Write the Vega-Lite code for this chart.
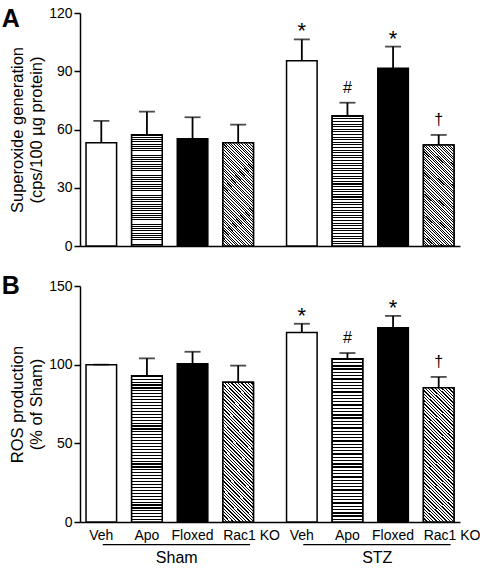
{
  "$schema": "https://vega.github.io/schema/vega-lite/v6.json",
  "padding": {"left": 1, "top": 6, "right": 5, "bottom": 2},
  "spacing": 21,
  "params": [
    {"name": "stripeStops", "value": [
      {"offset":0,"color":"#000"},{"offset":0.008,"color":"#000"},{"offset":0.008,"color":"#fff"},{"offset":0.02,"color":"#fff"},
      {"offset":0.02,"color":"#000"},{"offset":0.028,"color":"#000"},{"offset":0.028,"color":"#fff"},{"offset":0.04,"color":"#fff"},
      {"offset":0.04,"color":"#000"},{"offset":0.048,"color":"#000"},{"offset":0.048,"color":"#fff"},{"offset":0.06,"color":"#fff"},
      {"offset":0.06,"color":"#000"},{"offset":0.068,"color":"#000"},{"offset":0.068,"color":"#fff"},{"offset":0.08,"color":"#fff"},
      {"offset":0.08,"color":"#000"},{"offset":0.088,"color":"#000"},{"offset":0.088,"color":"#fff"},{"offset":0.1,"color":"#fff"},
      {"offset":0.1,"color":"#000"},{"offset":0.108,"color":"#000"},{"offset":0.108,"color":"#fff"},{"offset":0.12,"color":"#fff"},
      {"offset":0.12,"color":"#000"},{"offset":0.128,"color":"#000"},{"offset":0.128,"color":"#fff"},{"offset":0.14,"color":"#fff"},
      {"offset":0.14,"color":"#000"},{"offset":0.148,"color":"#000"},{"offset":0.148,"color":"#fff"},{"offset":0.16,"color":"#fff"},
      {"offset":0.16,"color":"#000"},{"offset":0.168,"color":"#000"},{"offset":0.168,"color":"#fff"},{"offset":0.18,"color":"#fff"},
      {"offset":0.18,"color":"#000"},{"offset":0.188,"color":"#000"},{"offset":0.188,"color":"#fff"},{"offset":0.2,"color":"#fff"},
      {"offset":0.2,"color":"#000"},{"offset":0.208,"color":"#000"},{"offset":0.208,"color":"#fff"},{"offset":0.22,"color":"#fff"},
      {"offset":0.22,"color":"#000"},{"offset":0.228,"color":"#000"},{"offset":0.228,"color":"#fff"},{"offset":0.24,"color":"#fff"},
      {"offset":0.24,"color":"#000"},{"offset":0.248,"color":"#000"},{"offset":0.248,"color":"#fff"},{"offset":0.26,"color":"#fff"},
      {"offset":0.26,"color":"#000"},{"offset":0.268,"color":"#000"},{"offset":0.268,"color":"#fff"},{"offset":0.28,"color":"#fff"},
      {"offset":0.28,"color":"#000"},{"offset":0.288,"color":"#000"},{"offset":0.288,"color":"#fff"},{"offset":0.3,"color":"#fff"},
      {"offset":0.3,"color":"#000"},{"offset":0.308,"color":"#000"},{"offset":0.308,"color":"#fff"},{"offset":0.32,"color":"#fff"},
      {"offset":0.32,"color":"#000"},{"offset":0.328,"color":"#000"},{"offset":0.328,"color":"#fff"},{"offset":0.34,"color":"#fff"},
      {"offset":0.34,"color":"#000"},{"offset":0.348,"color":"#000"},{"offset":0.348,"color":"#fff"},{"offset":0.36,"color":"#fff"},
      {"offset":0.36,"color":"#000"},{"offset":0.368,"color":"#000"},{"offset":0.368,"color":"#fff"},{"offset":0.38,"color":"#fff"},
      {"offset":0.38,"color":"#000"},{"offset":0.388,"color":"#000"},{"offset":0.388,"color":"#fff"},{"offset":0.4,"color":"#fff"},
      {"offset":0.4,"color":"#000"},{"offset":0.408,"color":"#000"},{"offset":0.408,"color":"#fff"},{"offset":0.42,"color":"#fff"},
      {"offset":0.42,"color":"#000"},{"offset":0.428,"color":"#000"},{"offset":0.428,"color":"#fff"},{"offset":0.44,"color":"#fff"},
      {"offset":0.44,"color":"#000"},{"offset":0.448,"color":"#000"},{"offset":0.448,"color":"#fff"},{"offset":0.46,"color":"#fff"},
      {"offset":0.46,"color":"#000"},{"offset":0.468,"color":"#000"},{"offset":0.468,"color":"#fff"},{"offset":0.48,"color":"#fff"},
      {"offset":0.48,"color":"#000"},{"offset":0.488,"color":"#000"},{"offset":0.488,"color":"#fff"},{"offset":0.5,"color":"#fff"},
      {"offset":0.5,"color":"#000"},{"offset":0.508,"color":"#000"},{"offset":0.508,"color":"#fff"},{"offset":0.52,"color":"#fff"},
      {"offset":0.52,"color":"#000"},{"offset":0.528,"color":"#000"},{"offset":0.528,"color":"#fff"},{"offset":0.54,"color":"#fff"},
      {"offset":0.54,"color":"#000"},{"offset":0.548,"color":"#000"},{"offset":0.548,"color":"#fff"},{"offset":0.56,"color":"#fff"},
      {"offset":0.56,"color":"#000"},{"offset":0.568,"color":"#000"},{"offset":0.568,"color":"#fff"},{"offset":0.58,"color":"#fff"},
      {"offset":0.58,"color":"#000"},{"offset":0.588,"color":"#000"},{"offset":0.588,"color":"#fff"},{"offset":0.6,"color":"#fff"},
      {"offset":0.6,"color":"#000"},{"offset":0.608,"color":"#000"},{"offset":0.608,"color":"#fff"},{"offset":0.62,"color":"#fff"},
      {"offset":0.62,"color":"#000"},{"offset":0.628,"color":"#000"},{"offset":0.628,"color":"#fff"},{"offset":0.64,"color":"#fff"},
      {"offset":0.64,"color":"#000"},{"offset":0.648,"color":"#000"},{"offset":0.648,"color":"#fff"},{"offset":0.66,"color":"#fff"},
      {"offset":0.66,"color":"#000"},{"offset":0.668,"color":"#000"},{"offset":0.668,"color":"#fff"},{"offset":0.68,"color":"#fff"},
      {"offset":0.68,"color":"#000"},{"offset":0.688,"color":"#000"},{"offset":0.688,"color":"#fff"},{"offset":0.7,"color":"#fff"},
      {"offset":0.7,"color":"#000"},{"offset":0.708,"color":"#000"},{"offset":0.708,"color":"#fff"},{"offset":0.72,"color":"#fff"},
      {"offset":0.72,"color":"#000"},{"offset":0.728,"color":"#000"},{"offset":0.728,"color":"#fff"},{"offset":0.74,"color":"#fff"},
      {"offset":0.74,"color":"#000"},{"offset":0.748,"color":"#000"},{"offset":0.748,"color":"#fff"},{"offset":0.76,"color":"#fff"},
      {"offset":0.76,"color":"#000"},{"offset":0.768,"color":"#000"},{"offset":0.768,"color":"#fff"},{"offset":0.78,"color":"#fff"},
      {"offset":0.78,"color":"#000"},{"offset":0.788,"color":"#000"},{"offset":0.788,"color":"#fff"},{"offset":0.8,"color":"#fff"},
      {"offset":0.8,"color":"#000"},{"offset":0.808,"color":"#000"},{"offset":0.808,"color":"#fff"},{"offset":0.82,"color":"#fff"},
      {"offset":0.82,"color":"#000"},{"offset":0.828,"color":"#000"},{"offset":0.828,"color":"#fff"},{"offset":0.84,"color":"#fff"},
      {"offset":0.84,"color":"#000"},{"offset":0.848,"color":"#000"},{"offset":0.848,"color":"#fff"},{"offset":0.86,"color":"#fff"},
      {"offset":0.86,"color":"#000"},{"offset":0.868,"color":"#000"},{"offset":0.868,"color":"#fff"},{"offset":0.88,"color":"#fff"},
      {"offset":0.88,"color":"#000"},{"offset":0.888,"color":"#000"},{"offset":0.888,"color":"#fff"},{"offset":0.9,"color":"#fff"},
      {"offset":0.9,"color":"#000"},{"offset":0.908,"color":"#000"},{"offset":0.908,"color":"#fff"},{"offset":0.92,"color":"#fff"},
      {"offset":0.92,"color":"#000"},{"offset":0.928,"color":"#000"},{"offset":0.928,"color":"#fff"},{"offset":0.94,"color":"#fff"},
      {"offset":0.94,"color":"#000"},{"offset":0.948,"color":"#000"},{"offset":0.948,"color":"#fff"},{"offset":0.96,"color":"#fff"},
      {"offset":0.96,"color":"#000"},{"offset":0.968,"color":"#000"},{"offset":0.968,"color":"#fff"},{"offset":0.98,"color":"#fff"},
      {"offset":0.98,"color":"#000"},{"offset":0.988,"color":"#000"},{"offset":0.988,"color":"#fff"},{"offset":1,"color":"#fff"}
    ]},
    {"name": "stripes", "expr": "{gradient: 'linear', x1: 0, y1: 0, x2: 0, y2: 1, stops: stripeStops}"},
    {"name": "hatchA", "expr": "{gradient: 'linear', x1: 0, y1: 1, x2: 0.358, y2: -0.193, stops: stripeStops}"},
    {"name": "hatchB", "expr": "{gradient: 'linear', x1: 0, y1: 1, x2: 0.259, y2: -0.165, stops: stripeStops}"}
  ],
  "datasets": {
    "a": [
      {"group": "Sham", "treatment": "Veh", "mean": 53.2, "upper": 64.4},
      {"group": "Sham", "treatment": "Apo", "mean": 57.3, "upper": 69.2},
      {"group": "Sham", "treatment": "Floxed", "mean": 55.3, "upper": 66.3},
      {"group": "Sham", "treatment": "Rac1 KO", "mean": 53.2, "upper": 62.5},
      {"group": "STZ", "treatment": "Veh", "mean": 95.4, "upper": 106.4, "sig": "*"},
      {"group": "STZ", "treatment": "Apo", "mean": 67.1, "upper": 73.8, "sig": "#"},
      {"group": "STZ", "treatment": "Floxed", "mean": 91.5, "upper": 102.7, "sig": "*"},
      {"group": "STZ", "treatment": "Rac1 KO", "mean": 52.0, "upper": 57.2, "sig": "†"}
    ],
    "b": [
      {"group": "Sham", "treatment": "Veh", "mean": 100, "upper": 100},
      {"group": "Sham", "treatment": "Apo", "mean": 93.0, "upper": 104},
      {"group": "Sham", "treatment": "Floxed", "mean": 100.6, "upper": 108.2},
      {"group": "Sham", "treatment": "Rac1 KO", "mean": 88.9, "upper": 99.4},
      {"group": "STZ", "treatment": "Veh", "mean": 120.5, "upper": 126, "sig": "*"},
      {"group": "STZ", "treatment": "Apo", "mean": 103.8, "upper": 107.4, "sig": "#"},
      {"group": "STZ", "treatment": "Floxed", "mean": 123.4, "upper": 131, "sig": "*"},
      {"group": "STZ", "treatment": "Rac1 KO", "mean": 85.4, "upper": 92.2, "sig": "†"}
    ]
  },
  "vconcat": [
    {
      "width": 380,
      "height": 233,
      "data": {"name": "a"},
      "title": {"text": "A", "anchor": "start", "frame": "bounds", "fontSize": 25, "fontWeight": "bold", "baseline": "alphabetic", "offset": -46, "dx": -8, "color": "black"},
      "layer": [
        {
          "mark": {"type": "bar", "stroke": "black", "strokeWidth": 1.5},
          "encoding": {
            "x": {"field": "group", "type": "nominal", "scale": {"domain": ["Sham", "STZ"], "paddingInner": 0.165, "paddingOuter": 0.03}, "axis": {"labels": false, "ticks": false, "title": null}},
            "xOffset": {"field": "treatment", "type": "nominal", "scale": {"domain": ["Veh", "Apo", "Floxed", "Rac1 KO"], "paddingInner": 0.33, "paddingOuter": 0}},
            "y": {"field": "mean", "type": "quantitative", "scale": {"domain": [0, 120], "nice": false}, "axis": {"values": [0, 30, 60, 90, 120], "title": ["Superoxide generation", "(cps/100 µg protein)"]}},
            "fill": {"condition": [{"test": "datum.treatment === 'Veh'", "value": "white"}, {"test": "datum.treatment === 'Floxed'", "value": "black"}], "value": "#999999"}
          }
        },
        {
          "transform": [{"filter": "datum.treatment === 'Apo'"}],
          "mark": {"type": "bar", "stroke": "black", "strokeWidth": 1.5, "fill": {"expr": "stripes"}},
          "encoding": {
            "x": {"field": "group", "type": "nominal"},
            "xOffset": {"field": "treatment", "type": "nominal"},
            "y": {"field": "mean", "type": "quantitative"}
          }
        },
        {
          "transform": [{"filter": "datum.treatment === 'Rac1 KO'"}],
          "mark": {"type": "bar", "stroke": "black", "strokeWidth": 1.5, "fill": {"expr": "hatchA"}},
          "encoding": {
            "x": {"field": "group", "type": "nominal"},
            "xOffset": {"field": "treatment", "type": "nominal"},
            "y": {"field": "mean", "type": "quantitative"}
          }
        },
        {
          "mark": {"type": "rule", "strokeWidth": 1.8, "color": "black"},
          "encoding": {
            "x": {"field": "group", "type": "nominal"},
            "xOffset": {"field": "treatment", "type": "nominal"},
            "y": {"field": "mean", "type": "quantitative"},
            "y2": {"field": "upper"}
          }
        },
        {
          "mark": {"type": "tick", "size": 16, "thickness": 1.8, "color": "black", "orient": "horizontal"},
          "encoding": {
            "x": {"field": "group", "type": "nominal"},
            "xOffset": {"field": "treatment", "type": "nominal"},
            "y": {"field": "upper", "type": "quantitative"}
          }
        },
        {
          "transform": [{"filter": "datum.sig === '*'"}],
          "mark": {"type": "text", "fontSize": 22, "baseline": "alphabetic", "dy": -1, "color": "black"},
          "encoding": {
            "x": {"field": "group", "type": "nominal"},
            "xOffset": {"field": "treatment", "type": "nominal"},
            "y": {"field": "upper", "type": "quantitative"},
            "text": {"field": "sig"}
          }
        },
        {
          "transform": [{"filter": "datum.sig === '#' || datum.sig === '†'"}],
          "mark": {"type": "text", "fontSize": 16, "baseline": "alphabetic", "dy": -10, "color": "black"},
          "encoding": {
            "x": {"field": "group", "type": "nominal"},
            "xOffset": {"field": "treatment", "type": "nominal"},
            "y": {"field": "upper", "type": "quantitative"},
            "text": {"field": "sig"}
          }
        }
      ]
    },
    {
      "width": 380,
      "height": 236,
      "data": {"name": "b"},
      "title": {"text": "B", "anchor": "start", "frame": "bounds", "fontSize": 25, "fontWeight": "bold", "baseline": "alphabetic", "offset": -40, "dx": -8, "color": "black"},
      "layer": [
        {
          "mark": {"type": "bar", "stroke": "black", "strokeWidth": 1.5},
          "encoding": {
            "x": {"field": "group", "type": "nominal", "scale": {"domain": ["Sham", "STZ"], "paddingInner": 0.165, "paddingOuter": 0.03}, "axis": {"ticks": false, "title": null, "labelAngle": 0, "labelFontSize": 16, "labelPadding": 27, "labelOffset": 7}},
            "xOffset": {"field": "treatment", "type": "nominal", "scale": {"domain": ["Veh", "Apo", "Floxed", "Rac1 KO"], "paddingInner": 0.33, "paddingOuter": 0}},
            "y": {"field": "mean", "type": "quantitative", "scale": {"domain": [0, 150], "nice": false}, "axis": {"values": [0, 50, 100, 150], "title": ["ROS production", "(% of Sham)"]}},
            "fill": {"condition": [{"test": "datum.treatment === 'Veh'", "value": "white"}, {"test": "datum.treatment === 'Floxed'", "value": "black"}], "value": "#999999"}
          }
        },
        {
          "transform": [{"filter": "datum.treatment === 'Apo'"}],
          "mark": {"type": "bar", "stroke": "black", "strokeWidth": 1.5, "fill": {"expr": "stripes"}},
          "encoding": {
            "x": {"field": "group", "type": "nominal"},
            "xOffset": {"field": "treatment", "type": "nominal"},
            "y": {"field": "mean", "type": "quantitative"}
          }
        },
        {
          "transform": [{"filter": "datum.treatment === 'Rac1 KO'"}],
          "mark": {"type": "bar", "stroke": "black", "strokeWidth": 1.5, "fill": {"expr": "hatchB"}},
          "encoding": {
            "x": {"field": "group", "type": "nominal"},
            "xOffset": {"field": "treatment", "type": "nominal"},
            "y": {"field": "mean", "type": "quantitative"}
          }
        },
        {
          "mark": {"type": "rule", "strokeWidth": 1.8, "color": "black"},
          "encoding": {
            "x": {"field": "group", "type": "nominal"},
            "xOffset": {"field": "treatment", "type": "nominal"},
            "y": {"field": "mean", "type": "quantitative"},
            "y2": {"field": "upper"}
          }
        },
        {
          "mark": {"type": "tick", "size": 16, "thickness": 1.8, "color": "black", "orient": "horizontal"},
          "encoding": {
            "x": {"field": "group", "type": "nominal"},
            "xOffset": {"field": "treatment", "type": "nominal"},
            "y": {"field": "upper", "type": "quantitative"}
          }
        },
        {
          "transform": [{"filter": "datum.sig === '*'"}],
          "mark": {"type": "text", "fontSize": 22, "baseline": "alphabetic", "dy": -1, "color": "black"},
          "encoding": {
            "x": {"field": "group", "type": "nominal"},
            "xOffset": {"field": "treatment", "type": "nominal"},
            "y": {"field": "upper", "type": "quantitative"},
            "text": {"field": "sig"}
          }
        },
        {
          "transform": [{"filter": "datum.sig === '#' || datum.sig === '†'"}],
          "mark": {"type": "text", "fontSize": 16, "baseline": "alphabetic", "dy": -10, "color": "black"},
          "encoding": {
            "x": {"field": "group", "type": "nominal"},
            "xOffset": {"field": "treatment", "type": "nominal"},
            "y": {"field": "upper", "type": "quantitative"},
            "text": {"field": "sig"}
          }
        },
        {
          "transform": [{"filter": "datum.treatment !== 'Rac1 KO'"}],
          "mark": {"type": "text", "fontSize": 14, "baseline": "alphabetic", "dy": 18, "color": "black"},
          "encoding": {
            "x": {"field": "group", "type": "nominal"},
            "xOffset": {"field": "treatment", "type": "nominal"},
            "y": {"datum": 0},
            "text": {"field": "treatment"}
          }
        },
        {
          "transform": [{"filter": "datum.treatment === 'Rac1 KO'"}],
          "mark": {"type": "text", "fontSize": 14, "baseline": "alphabetic", "align": "left", "dx": -15, "dy": 18, "color": "black"},
          "encoding": {
            "x": {"field": "group", "type": "nominal"},
            "xOffset": {"field": "treatment", "type": "nominal"},
            "y": {"datum": 0},
            "text": {"field": "treatment"}
          }
        },
        {
          "transform": [{"filter": "datum.treatment === 'Veh'"}],
          "mark": {"type": "rule", "strokeWidth": 1.2, "color": "black"},
          "encoding": {
            "x": {"field": "group", "type": "nominal", "bandPosition": 0.1},
            "x2": {"field": "group", "bandPosition": 0.98},
            "y": {"datum": -14.4}
          }
        }
      ]
    }
  ],
  "config": {
    "font": "Liberation Sans",
    "view": {"stroke": null},
    "axis": {
      "domainColor": "black", "domainWidth": 1.5, "tickColor": "black", "tickWidth": 1.5, "tickSize": 6,
      "labelColor": "black", "labelFontSize": 14, "labelPadding": 2, "labelFont": "Liberation Sans",
      "titleColor": "black", "titleFontSize": 16.5, "titleFontWeight": "normal", "titleFont": "Liberation Sans",
      "titleLineHeight": 19, "titlePadding": 4, "grid": false
    },
    "title": {"font": "Liberation Sans"}
  }
}
